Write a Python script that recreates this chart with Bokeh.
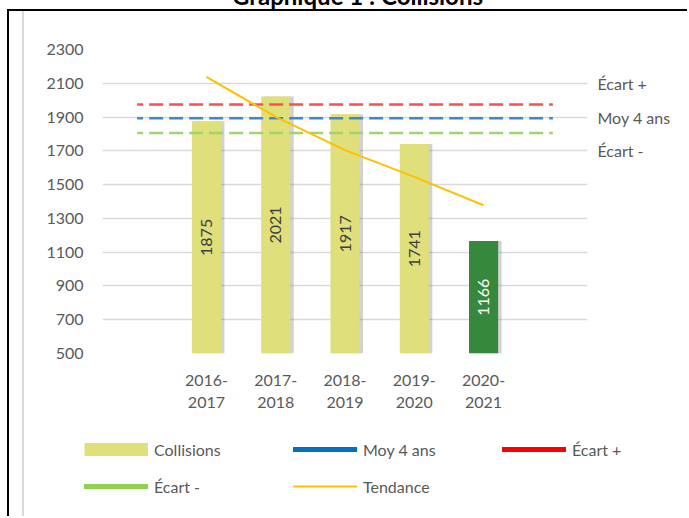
from math import pi
from bokeh.plotting import figure
from bokeh.layouts import column
from bokeh.models import (FactorRange, Range1d, FixedTicker, LinearAxis, Legend, LegendItem,
                          ColumnDataSource, Div)
from bokeh.transform import dodge
from bokeh.core.properties import value
from bokeh.embed import file_html
from bokeh.resources import INLINE

# ---- data ----
saisons = ["2016-\n2017", "2017-\n2018", "2018-\n2019", "2019-\n2020", "2020-\n2021"]
slots = [" "] + saisons + ["  "]
collisions = [1875, 2021, 1917, 1741, 1166]
tendance = [2138, 1901, 1704, 1546, 1378]
moy_4_ans = [1893, 1893, 1893, 1893, 1893, 1893, 1893]
ecart_plus = [1975, 1975, 1975, 1975, 1975, 1975, 1975]
ecart_moins = [1806, 1806, 1806, 1806, 1806, 1806, 1806]
y_ticks = [500, 700, 900, 1100, 1300, 1500, 1700, 1900, 2100, 2300]
right_ticks = [1700, 1900, 2100]
right_labels = ["Écart -", "Moy 4 ans", "Écart +"]
title_text = "Graphique 1 : Collisions"

# ---- styles ----
FONT = "Lato"
TXT = "#595959"
BAR = "#DFE07B"
BAR_LAST = "#36883D"
bar_colors = [BAR, BAR, BAR, BAR, BAR_LAST]
lbl_colors = ["#404040", "#404040", "#404040", "#404040", "#FFFFFF"]
GREY_EDGE = "linear-gradient(to right, white 0px, white 13px, #D9D9D9 13px, #D9D9D9 15px, white 15px)"

src = ColumnDataSource(dict(
    x=saisons, top=collisions, color=bar_colors, lcolor=lbl_colors,
    label=[str(v) for v in collisions],
    ly=[(500 + v) / 2 for v in collisions],
))

x_range = FactorRange(*slots)
y_range = Range1d(500, 2300)

p = figure(width=680, height=414, x_range=x_range, y_range=y_range,
           output_backend="svg", toolbar_location=None,
           min_border_left=93, min_border_right=102, min_border_top=38, min_border_bottom=72)
p.margin = (0, 0, 0, 7)
p.frame_align = False
p.styles = {"border-top": "2px solid black", "border-left": "2px solid black", "background": GREY_EDGE}
p.outline_line_color = None
p.background_fill_color = "white"
p.border_fill_color = None

# grid
p.xgrid.grid_line_color = None
p.ygrid.ticker = FixedTicker(ticks=y_ticks)
p.ygrid.grid_line_color = "#D9D9D9"
p.ygrid.grid_line_width = 1.5

# axes
p.yaxis.ticker = FixedTicker(ticks=y_ticks)
rax = LinearAxis(ticker=FixedTicker(ticks=right_ticks),
                 major_label_overrides={t: l for t, l in zip(right_ticks, right_labels)})
p.add_layout(rax, "right")
for ax in [p.yaxis[0], p.xaxis[0], rax]:
    ax.axis_line_color = None
    ax.major_tick_line_color = None
    ax.minor_tick_line_color = None
    ax.major_tick_out = 0
    ax.major_tick_in = 0
    ax.major_label_text_font = FONT
    ax.major_label_text_font_size = "16px"
    ax.major_label_text_color = TXT
p.yaxis[0].major_label_standoff = 19
p.xaxis.major_label_standoff = 16
rax.major_label_standoff = 10

# bars (with soft shadow)
p.vbar(x=dodge("x", 0.05, range=p.x_range), top="top", bottom=500, width=0.42, source=src,
       fill_color="#7F7F7F", fill_alpha=0.35, line_color=None)
p.vbar(x="x", top="top", bottom=500, width=0.42, source=src,
       fill_color="color", line_color=None)
p.text(x="x", y="ly", text="label", source=src, angle=pi / 2,
       text_align="center", text_baseline="middle",
       text_font=value(FONT), text_font_size="16px", text_color="lcolor")

# reference lines
dash = dict(line_width=2.5, line_dash="14 6", line_dash_offset=8)
p.line(x=slots, y=ecart_plus, line_color="#FF4D4D", **dash)
p.line(x=slots, y=moy_4_ans, line_color="#3F88CF", **dash)
p.line(x=slots, y=ecart_moins, line_color="#A3D36E", **dash)
p.line(x=saisons, y=tendance, line_color="#FFC000", line_width=2)

# ---- legend panel (separate strip below the chart) ----
q = figure(width=680, height=93, x_range=x_range, y_range=y_range,
           output_backend="svg", toolbar_location=None,
           x_axis_location=None, y_axis_location=None,
           min_border_left=0, min_border_right=0, min_border_top=0, min_border_bottom=0)
q.margin = (0, 0, 0, 7)
q.frame_align = False
q.styles = {"border-left": "2px solid black", "background": GREY_EDGE}
q.outline_line_color = None
q.grid.visible = False
q.background_fill_color = None
q.border_fill_color = None

lg_c = q.line(x=saisons, y=collisions, line_color=BAR, line_width=13, line_cap="butt", visible=False)
lg_m = q.line(x=slots, y=moy_4_ans, line_color="#0070C0", line_width=5, line_cap="round", visible=False)
lg_p = q.line(x=slots, y=ecart_plus, line_color="#FF0000", line_width=5, line_cap="round", visible=False)
lg_e = q.line(x=slots, y=ecart_moins, line_color="#92D050", line_width=5, line_cap="round", visible=False)
lg_t = q.line(x=saisons, y=tendance, line_color="#FFC000", line_width=2, visible=False)

legend = Legend(items=[
    LegendItem(label="Collisions", renderers=[lg_c]),
    LegendItem(label="Moy 4 ans", renderers=[lg_m]),
    LegendItem(label="Écart +", renderers=[lg_p]),
    LegendItem(label="Écart -", renderers=[lg_e]),
    LegendItem(label="Tendance", renderers=[lg_t]),
], location=(75, 20), orientation="horizontal", ncols=3,
    glyph_width=64, glyph_height=20, label_width=122, label_height=20,
    label_standoff=6, spacing=17, padding=0, margin=0,
    border_line_color=None, background_fill_alpha=0,
    label_text_font=FONT, label_text_font_size="16px", label_text_color=TXT)
q.add_layout(legend)

# cut-off title above the frame
title_div = Div(text=(f'<div style="font-family: Lato; font-weight: bold; font-size: 24px; '
                      f'line-height: 24px; color: black; text-align: center; width: 689px; '
                      f'padding-left: 26px; box-sizing: border-box; position: relative; top: -16px; '
                      f'white-space: nowrap;">{title_text}</div>'),
                width=689, height=9, styles={"overflow": "hidden"}, margin=(0, 0, 0, 0))

layout = column(title_div, p, q, spacing=0, margin=(0, 0, 0, 0))
open("out.html", "w").write(file_html(layout, INLINE))
